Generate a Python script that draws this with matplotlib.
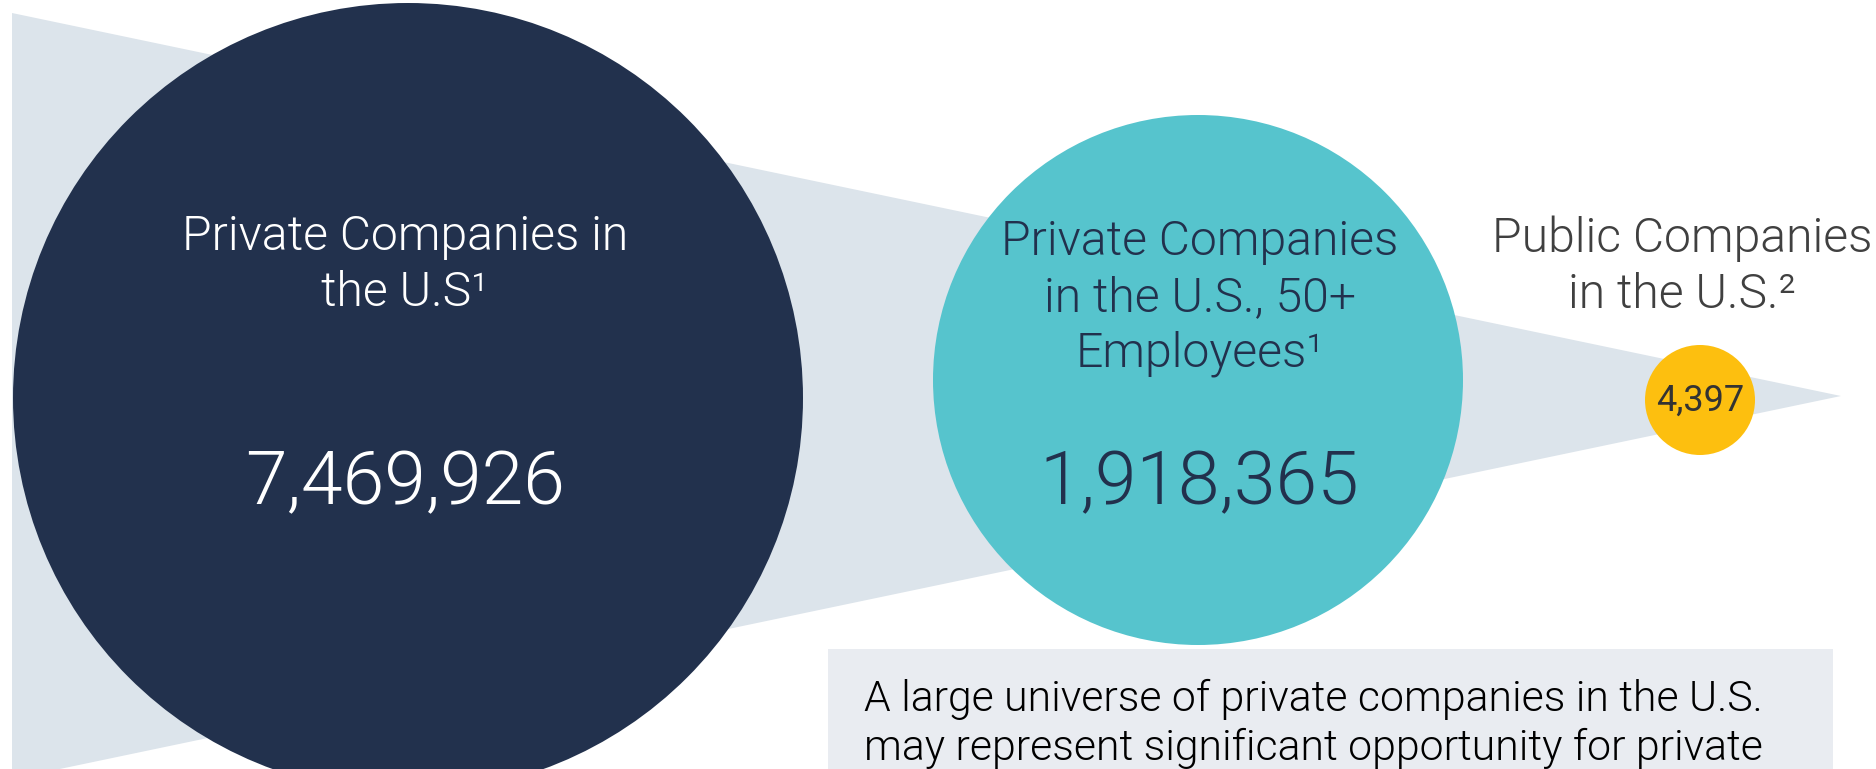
import matplotlib.pyplot as plt
from matplotlib import font_manager
from matplotlib.patches import Circle, Polygon, Rectangle

plt.rcParams['font.family'] = ['Roboto', 'DejaVu Sans']

# pick Roboto Light if it is there, else plain Roboto
light_file = None
for f in font_manager.fontManager.ttflist:
    fn = f.fname.split('/')[-1]
    if fn.startswith('Roboto-Light') and 'Italic' not in fn:
        light_file = f.fname
        break

def light(size):
    if light_file:
        return font_manager.FontProperties(fname=light_file, size=size)
    return font_manager.FontProperties(family='Roboto', weight='normal', size=size)

def regular(size):
    return font_manager.FontProperties(family='Roboto', weight='normal', size=size)

# data
labels = ["Private Companies in\nthe U.S\u00b9",
          "Private Companies\nin the U.S., 50+\nEmployees\u00b9",
          "Public Companies\nin the U.S.\u00b2"]
counts = [7469926, 1918365, 4397]
note = ("A large universe of private companies in the U.S.\n"
        "may represent significant opportunity for private")

# layout (pixels, y down)
W, H = 1876, 769
centers = [(408, 398), (1198, 380), (1700, 400)]
radii = [395, 265, 55]
fills = ['#22314d', '#56c4cd', '#fdbf0f']
num_colors = ['white', '#22314d', '#333333']
lab_colors = ['white', '#22314d', '#404040']
lab_pos = [(405, 265), (1200, 298), (1682, 267)]
num_pos = [(405, 484), (1199, 484), (1700, 401)]
num_fonts = [light(54), light(54), regular(26)]

fig = plt.figure(figsize=(W / 100, H / 100), dpi=100)
ax = fig.add_axes([0, 0, 1, 1])
ax.set_xlim(0, W)
ax.set_ylim(H, 0)
ax.axis('off')

# funnel wedge behind the circles
ax.add_patch(Polygon([(12, 13), (1841, 396), (12, 779)], closed=True,
                     facecolor='#dce4eb', edgecolor='none', zorder=1))

for i in range(3):
    ax.add_patch(Circle(centers[i], radii[i], facecolor=fills[i],
                        edgecolor='none', zorder=2))
    ax.text(lab_pos[i][0], lab_pos[i][1], labels[i], ha='center', va='center',
            fontproperties=light(34.7), color=lab_colors[i],
            linespacing=1.28, zorder=3)
    ax.text(num_pos[i][0], num_pos[i][1], f"{counts[i]:,}", ha='center',
            va='center', fontproperties=num_fonts[i],
            color=num_colors[i], zorder=3)

# note box
ax.add_patch(Rectangle((828, 649), 1833 - 828, 130, facecolor='#e9ecf1',
                       edgecolor='none', zorder=2))
ax.text(864, 724, note, ha='left', va='center', fontproperties=light(30.8),
        color='black', linespacing=1.25, zorder=3)

fig.savefig('out.png', dpi=100)
